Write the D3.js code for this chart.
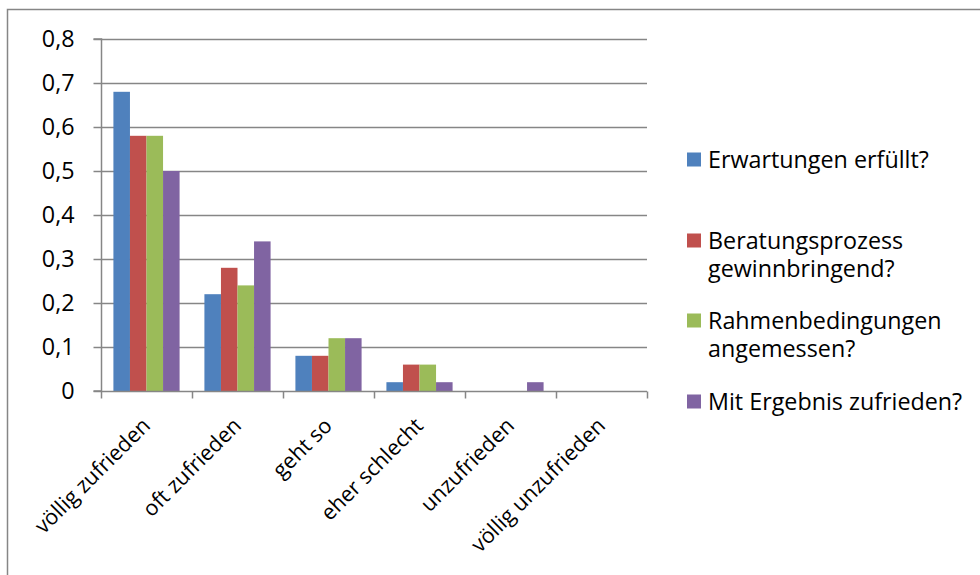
<!DOCTYPE html>
<html>
<head>
<meta charset="utf-8">
<script src="https://cdn.jsdelivr.net/npm/d3@7"></script>
<style>
  html, body { margin: 0; padding: 0; background: #fff; }
  svg { display: block; }
</style>
</head>
<body>
<svg id="chart" width="980" height="575"></svg>
<script>
const categories = ["völlig zufrieden", "oft zufrieden", "geht so", "eher schlecht", "unzufrieden", "völlig unzufrieden"];
const seriesNames = ["Erwartungen erfüllt?", "Beratungsprozess gewinnbringend?", "Rahmenbedingungen angemessen?", "Mit Ergebnis zufrieden?"];
const legendLines = [["Erwartungen erfüllt?"], ["Beratungsprozess", "gewinnbringend?"], ["Rahmenbedingungen", "angemessen?"], ["Mit Ergebnis zufrieden?"]];
const erwartungen = [0.68, 0.22, 0.08, 0.02, 0, 0];
const beratung    = [0.58, 0.28, 0.08, 0.06, 0, 0];
const rahmen      = [0.58, 0.24, 0.12, 0.06, 0, 0];
const ergebnis    = [0.50, 0.34, 0.12, 0.02, 0.02, 0];
const yTicks = [0, 0.1, 0.2, 0.3, 0.4, 0.5, 0.6, 0.7, 0.8];
const colors = ["#4F81BD", "#C0504D", "#9BBB59", "#8064A2"];

(function () {
const seriesValues = [erwartungen, beratung, rahmen, ergebnis];
const FONT = "'Open Sans', Lato, sans-serif";
const FS = 23.3;
const FSX = 21.5;
const svg = d3.select("#chart");

const pLeft = 101, pRight = 647, pTop = 39, pBottom = 391;
const x0 = d3.scaleBand().domain(categories).range([pLeft, pRight]).paddingInner(0).paddingOuter(0);
const bw = x0.bandwidth() / (4 + 1.5);
const x1 = d3.scaleBand().domain(d3.range(4)).range([bw * 0.75, bw * 0.75 + bw * 4]);
const y = d3.scaleLinear().domain([0, 0.8]).range([pBottom, pTop]);
const AX = "#868686";

svg.append("path").attr("d", `M7.5,575 V9.5 H980`).attr("fill", "none").attr("stroke", AX).attr("stroke-width", 1.5);

svg.append("g").selectAll("line").data(yTicks.filter(d => d > 0)).join("line")
  .attr("x1", pLeft).attr("x2", pRight)
  .attr("y1", d => Math.round(y(d)) + 0.5).attr("y2", d => Math.round(y(d)) + 0.5)
  .attr("stroke", AX).attr("stroke-width", 1.3);

const groups = svg.append("g").selectAll("g").data(categories).join("g")
  .attr("transform", d => `translate(${x0(d)},0)`);
groups.selectAll("rect").data((c, i) => seriesValues.map((s, k) => ({k, v: s[i]})).filter(d => d.v > 0)).join("rect")
  .attr("x", d => x1(d.k)).attr("width", x1.bandwidth())
  .attr("y", d => y(d.v)).attr("height", d => y(0) - y(d.v))
  .attr("fill", d => colors[d.k]);

const yAxis = d3.axisLeft(y).tickValues(yTicks).tickSize(8).tickPadding(19)
  .tickFormat(d => d === 0 ? "0" : d3.format(".1f")(d).replace(".", ","));
const gy = svg.append("g").attr("transform", `translate(${pLeft + 0.5},0)`).call(yAxis);
gy.select(".domain").attr("stroke", AX).attr("stroke-width", 1.5).attr("d", `M-8,${pTop}H0V${pBottom}H-8`);
gy.selectAll(".tick line").attr("stroke", AX).attr("stroke-width", 1.5);
gy.selectAll(".tick text").attr("font-family", FONT).attr("font-size", FS).attr("fill", "#000");

const gx = svg.append("g").attr("transform", `translate(0,${pBottom + 0.5})`);
gx.append("line").attr("x1", pLeft).attr("x2", pRight).attr("stroke", AX).attr("stroke-width", 1.5);
const bounds = categories.map(c => x0(c)).concat([pRight]);
gx.selectAll("line.t").data(bounds).join("line").attr("class", "t")
  .attr("x1", d => Math.round(d) + 0.5).attr("x2", d => Math.round(d) + 0.5)
  .attr("y1", 0).attr("y2", 7).attr("stroke", AX).attr("stroke-width", 1.5);
svg.append("g").selectAll("text").data(categories).join("text")
  .attr("transform", d => `translate(${x0(d) + x0.bandwidth() / 2 + 5},${pBottom + 36}) rotate(-45)`)
  .attr("text-anchor", "end")
  .attr("font-family", FONT).attr("font-size", FSX).attr("fill", "#000")
  .text(d => d);

const legendY = [160, 241, 321, 402];
const lg = svg.append("g").selectAll("g").data(seriesNames).join("g")
  .attr("transform", (d, i) => `translate(687,${legendY[i]})`);
lg.append("rect").attr("x", 0).attr("y", -7.5).attr("width", 14).attr("height", 14)
  .attr("fill", (d, i) => colors[i]);
lg.append("text").attr("font-family", FONT).attr("font-size", FS).attr("fill", "#000")
  .selectAll("tspan").data((d, i) => legendLines[i]).join("tspan")
  .attr("x", 21).attr("y", (d, j) => 8 + j * 28).text(d => d);
})();
</script>
</body>
</html>
